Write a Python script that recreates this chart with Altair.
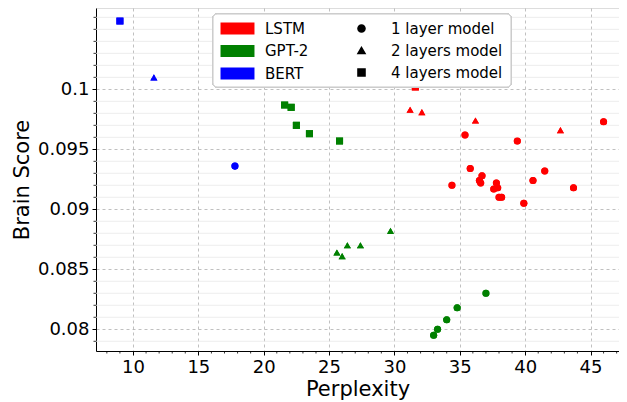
import altair as alt
import pandas as pd

# ---- data ----
lstm1_x = [46.0, 35.4, 39.4, 35.8, 34.4, 36.7, 36.5, 36.6, 37.8, 37.6, 37.9, 38.0, 38.2, 39.9, 40.6, 41.5, 43.7]
lstm1_y = [0.0973, 0.0962, 0.0957, 0.0934, 0.0920, 0.0928, 0.0924, 0.0922, 0.0922, 0.0917, 0.0918, 0.0910, 0.0910, 0.0905, 0.0924, 0.0932, 0.0918]
lstm2_x = [31.2, 32.1, 36.2, 42.7]
lstm2_y = [0.0983, 0.0981, 0.0974, 0.0966]
lstm4_x = [31.6]
lstm4_y = [0.1002]

gpt1_x = [33.0, 33.3, 34.0, 34.8, 37.0]
gpt1_y = [0.0795, 0.0800, 0.0808, 0.0818, 0.0830]
gpt2_x = [25.6, 26.0, 26.4, 27.4, 29.7]
gpt2_y = [0.0864, 0.0861, 0.0870, 0.0870, 0.0882]
gpt4_x = [21.6, 22.1, 22.5, 23.5, 25.8]
gpt4_y = [0.0987, 0.0985, 0.0970, 0.0963, 0.0957]

bert1_x = [17.8]
bert1_y = [0.0936]
bert2_x = [11.6]
bert2_y = [0.1010]
bert4_x = [9.0]
bert4_y = [0.1057]

models = ["LSTM", "GPT-2", "BERT"]
model_colors = ["#ff0000", "#008000", "#0000ff"]
layer_names = ["1 layer model", "2 layers model", "4 layers model"]
layer_shapes = ["circle", "triangle-up", "square"]

x_ticks = [10, 15, 20, 25, 30, 35, 40, 45]
x_minor = [8, 9, 11, 12, 13, 14, 16, 17, 18, 19, 21, 22, 23, 24, 26, 27, 28, 29,
           31, 32, 33, 34, 36, 37, 38, 39, 41, 42, 43, 44, 46, 47]
y_ticks = [0.08, 0.085, 0.09, 0.095, 0.1]
y_minor = [0.079, 0.081, 0.082, 0.083, 0.084, 0.086, 0.087, 0.088, 0.089,
           0.091, 0.092, 0.093, 0.094, 0.096, 0.097, 0.098, 0.099,
           0.101, 0.102, 0.103, 0.104, 0.105, 0.106]

groups = [
    ("LSTM", layer_names[0], lstm1_x, lstm1_y),
    ("LSTM", layer_names[1], lstm2_x, lstm2_y),
    ("LSTM", layer_names[2], lstm4_x, lstm4_y),
    ("GPT-2", layer_names[0], gpt1_x, gpt1_y),
    ("GPT-2", layer_names[1], gpt2_x, gpt2_y),
    ("GPT-2", layer_names[2], gpt4_x, gpt4_y),
    ("BERT", layer_names[0], bert1_x, bert1_y),
    ("BERT", layer_names[1], bert2_x, bert2_y),
    ("BERT", layer_names[2], bert4_x, bert4_y),
]
rows = []
for m, l, xs, ys in groups:
    for a, b in zip(xs, ys):
        rows.append({"model": m, "layers": l, "perplexity": a, "score": b})
df = pd.DataFrame(rows)
ymin_df = pd.DataFrame({"score": y_minor})
xmin_df = pd.DataFrame({"perplexity": x_minor})

W, H = 523, 343
FONT = "DejaVu Sans"
xscale = alt.Scale(domain=[7.17, 47.18], nice=False, zero=False)
yscale = alt.Scale(domain=[0.07819, 0.10678], nice=False, zero=False)

points = alt.Chart(df).mark_point(filled=True, size=50, opacity=1).encode(
    x=alt.X("perplexity:Q", scale=xscale,
            axis=alt.Axis(values=x_ticks, title="Perplexity", grid=True,
                          gridColor="#b0b0b0", gridDash=[3, 3], gridWidth=0.8,
                          tickSize=4, tickColor="black", domainColor="black",
                          labelFontSize=18, labelFont=FONT, labelColor="black",
                          titleFontSize=21, titleFont=FONT, titleFontWeight="normal",
                          titleColor="black", labelPadding=3, titlePadding=2)),
    y=alt.Y("score:Q", scale=yscale,
            axis=alt.Axis(values=y_ticks, title="Brain Score", grid=True, format="~g",
                          gridColor="#b0b0b0", gridDash=[3, 3], gridWidth=0.8,
                          tickSize=4, tickColor="black", domainColor="black",
                          labelFontSize=18, labelFont=FONT, labelColor="black",
                          titleFontSize=21, titleFont=FONT, titleFontWeight="normal",
                          titleColor="black", labelPadding=3, titlePadding=5)),
    color=alt.Color("model:N", scale=alt.Scale(domain=models, range=model_colors),
                    legend=alt.Legend(title=None, orient="none", legendX=134, legendY=13,
                                      symbolType="M-2.83,-1H2.83V1H-2.83Z", symbolSize=144,
                                      symbolStrokeWidth=0, labelFontSize=15, labelFont=FONT,
                                      labelColor="black", labelOffset=20, rowPadding=6.5)),
    shape=alt.Shape("layers:N", scale=alt.Scale(domain=layer_names, range=layer_shapes),
                    legend=alt.Legend(title=None, orient="none", legendX=258, legendY=13,
                                      symbolFillColor="black", symbolStrokeColor="black",
                                      symbolSize=50, labelFontSize=15, labelFont=FONT,
                                      labelColor="black", labelOffset=22, rowPadding=6)),
)

minor_grid = alt.Chart(ymin_df).mark_rule(color="#e8e8e8", strokeWidth=0.8).encode(
    y=alt.Y("score:Q", scale=yscale), x=alt.value(0), x2=alt.value(W)
)
minor_yticks = alt.Chart(ymin_df).mark_rule(color="black", strokeWidth=0.8).encode(
    y=alt.Y("score:Q", scale=yscale), x=alt.value(-2.5), x2=alt.value(0)
)
minor_xticks = alt.Chart(xmin_df).mark_rule(color="black", strokeWidth=0.8).encode(
    x=alt.X("perplexity:Q", scale=xscale), y=alt.value(H), y2=alt.value(H + 2.5)
)

frame = alt.Chart(df).mark_rect(fill="white", fillOpacity=0.8, stroke="#cccccc",
                                strokeWidth=1, cornerRadius=4).encode(
    x=alt.value(117), x2=alt.value(415), y=alt.value(6), y2=alt.value(79)
)

chart = alt.layer(points, minor_grid, minor_yticks, minor_xticks, points, frame).properties(
    width=W, height=H,
    autosize=alt.AutoSizeParams(type="none"),
    padding={"left": 88, "top": 0, "right": 0, "bottom": 50},
).configure_view(stroke=None).configure(background="white")

chart.save("out.html", embed_options={"renderer": "svg", "actions": False})
